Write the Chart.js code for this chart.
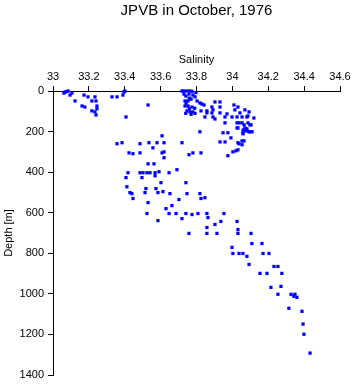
<!DOCTYPE html>
<html>
<head>
<meta charset="utf-8">
<script src="https://cdn.jsdelivr.net/npm/chart.js@4/dist/chart.umd.min.js"></script>
<style>
  body { margin: 0; background: #fff; }
  #wrap { width: 353px; height: 384px; }
</style>
</head>
<body>
<div id="wrap"><canvas id="myChart" width="353" height="384"></canvas></div>
<script>
// [salinity, depth in m]
const surfaceFresh = [
    [33.061, 10], [33.067, 5], [33.084, 0], [33.095, 20], [33.106, 10], [33.075, 3],
    [33.123, 49], [33.173, 20], [33.195, 29], [33.217, 49], [33.234, 29], [33.240, 49],
    [33.162, 74], [33.178, 79], [33.245, 74], [33.245, 88], [33.217, 98], [33.234, 103],
    [33.240, 118], [33.329, 29], [33.357, 29], [33.390, 20], [33.396, 5], [33.401, 0],
    [33.407, 128], [33.530, 69]
];
const surfaceColumn = [
    [33.719, 0], [33.730, 0], [33.747, 0], [33.764, 0], [33.775, 2], [33.797, 8],
    [33.730, 15], [33.758, 15], [33.780, 20], [33.741, 25], [33.792, 29], [33.760, 35],
    [33.770, 40], [33.736, 49], [33.753, 49], [33.803, 49], [33.742, 60], [33.819, 59],
    [33.736, 74], [33.753, 74], [33.775, 79], [33.790, 85], [33.760, 88], [33.747, 98],
    [33.825, 98], [33.764, 103], [33.780, 103], [33.740, 110], [33.770, 115], [33.792, 110]
];
const upperBand = [
    [33.842, 69], [33.830, 64], [33.886, 79], [33.903, 54], [33.931, 54], [33.931, 79],
    [33.858, 98], [33.892, 93], [33.858, 108], [33.886, 108], [33.931, 108], [33.970, 113],
    [33.847, 128], [33.892, 128], [33.959, 128], [33.998, 128], [34.009, 69], [34.031, 79],
    [34.014, 93], [34.070, 93], [34.093, 103], [34.042, 108], [34.026, 128], [34.054, 128],
    [34.081, 128], [34.087, 123], [34.120, 133], [33.903, 138], [33.959, 157], [34.026, 157],
    [34.054, 157], [34.087, 157], [34.037, 157], [34.065, 167], [34.104, 167], [34.098, 167],
    [34.070, 182], [34.026, 182], [34.031, 182], [34.076, 187], [34.081, 187], [34.060, 192],
    [34.081, 196], [34.076, 196], [34.059, 206], [34.098, 201], [34.110, 201], [34.093, 201],
    [34.060, 211], [33.819, 201], [33.948, 206], [33.975, 206], [33.992, 231], [33.931, 251],
    [33.959, 251], [34.031, 255], [34.054, 246], [34.065, 246], [34.054, 265], [34.037, 260],
    [34.003, 300], [34.031, 290], [34.020, 295], [33.975, 319], [33.825, 305]
];
const midDepth = [
    [33.357, 260], [33.385, 255], [33.485, 260], [33.535, 255], [33.580, 255], [33.608, 221],
    [33.619, 255], [33.719, 255], [33.557, 280], [33.424, 305], [33.446, 309], [33.485, 305],
    [33.608, 305], [33.619, 300], [33.619, 329], [33.758, 314], [33.780, 305], [33.530, 359],
    [33.563, 359], [33.418, 403], [33.407, 427], [33.485, 403], [33.502, 403], [33.524, 403],
    [33.541, 403], [33.569, 403], [33.569, 418], [33.591, 398], [33.647, 403], [33.691, 388],
    [33.496, 427], [33.602, 452], [33.741, 452], [33.412, 472], [33.518, 481], [33.574, 481],
    [33.429, 501], [33.440, 506], [33.513, 501], [33.585, 501], [33.613, 496], [33.652, 506],
    [33.747, 506], [33.819, 506], [33.446, 530], [33.702, 535], [33.825, 530], [33.847, 526],
    [33.530, 550], [33.630, 580], [33.663, 565]
];
const lowerDepth = [
    [33.524, 604], [33.647, 604], [33.686, 604], [33.741, 604], [33.775, 609], [33.808, 604],
    [33.858, 604], [33.953, 604], [33.585, 639], [33.719, 629], [33.864, 624], [33.936, 643],
    [34.026, 643], [33.903, 658], [33.858, 673], [34.031, 683], [33.758, 702], [33.858, 702],
    [33.914, 702], [34.031, 702], [34.104, 702]
];
const deepWater = [
    [33.998, 771], [34.109, 752], [34.165, 752], [34.003, 801], [34.037, 801], [34.059, 801],
    [34.081, 815], [34.171, 801], [34.204, 801], [34.093, 855], [34.232, 865], [34.254, 865],
    [34.154, 899], [34.193, 899], [34.276, 899], [34.215, 968], [34.271, 963], [34.254, 1002],
    [34.327, 1002], [34.349, 1002], [34.343, 1012], [34.360, 1017], [34.315, 1071], [34.388, 1086],
    [34.394, 1149], [34.399, 1199], [34.433, 1292]
];

const xTicks = [33, 33.2, 33.4, 33.6, 33.8, 34, 34.2, 34.4, 34.6];
const yTicks = [0, 200, 400, 600, 800, 1000, 1200, 1400];

let points = [];
[surfaceFresh, surfaceColumn, upperBand, midDepth, lowerDepth, deepWater].forEach(group => {
    group.forEach(p => points.push({ x: p[0], y: p[1] }));
});

const font = { family: 'Liberation Sans, Arial, sans-serif', size: 11 };

var ctx = document.getElementById('myChart');
var myChart = new Chart(ctx, {
    type: 'scatter',
    data: {
        datasets: [{
            data: points,
            backgroundColor: '#0000ff',
            borderWidth: 0,
            pointStyle: 'rect',
            pointRadius: 2.3,
            clip: false
        }]
    },
    options: {
        responsive: false,
        animation: false,
        layout: { padding: { left: 0, right: 13, top: 0, bottom: 9 } },
        plugins: {
            legend: { display: false },
            tooltip: { enabled: false },
            title: {
                display: true,
                fullSize: false, // centre over the plot area, like the original
                text: 'JPVB in October, 1976',
                color: '#000',
                font: { family: font.family, size: 15, weight: 'normal' },
                padding: { top: 2, bottom: 0 }
            }
        },
        scales: {
            x: {
                type: 'linear',
                position: 'top',
                min: 33,
                max: 34.6,
                afterBuildTicks: s => { s.ticks = xTicks.map(v => ({ value: v })); },
                ticks: { color: '#000', font: font, padding: 2, maxRotation: 0,
                    callback: v => String(Math.round(v * 10) / 10) },
                grid: { drawOnChartArea: false, color: '#000', tickLength: 5 },
                border: { display: true, color: '#000', width: 1 },
                title: { display: true, text: 'Salinity', color: '#000', font: font, padding: { top: 33, bottom: 0 } },
                afterFit: s => { s.height = 71; s.paddingLeft = 0; s.paddingRight = 0; }
            },
            y: {
                type: 'linear',
                reverse: true,
                min: 0,
                max: 1400,
                afterBuildTicks: s => { s.ticks = yTicks.map(v => ({ value: v })); },
                ticks: { color: '#000', font: font, padding: 4, callback: v => String(v) },
                grid: { drawOnChartArea: false, color: '#000', tickLength: 5 },
                border: { display: true, color: '#000', width: 1 },
                title: { display: true, text: 'Depth [m]', color: '#000', font: font, padding: { top: 2, bottom: 0 } },
                afterFit: s => { s.width = 53; s.paddingTop = 0; s.paddingBottom = 0; }
            }
        }
    }
});
</script>
</body>
</html>
